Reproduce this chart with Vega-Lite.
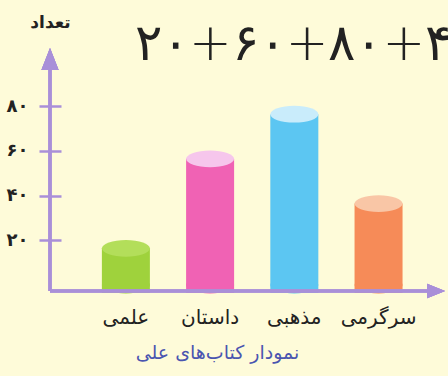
{
  "$schema": "https://vega.github.io/schema/vega-lite/v6.json",
  "width": 395,
  "height": 237,
  "autosize": {"type": "none"},
  "padding": {"left": 50, "top": 48, "right": 3, "bottom": 91},
  "background": "#fefbd9",
  "config": {"view": {"stroke": null}, "font": "DejaVu Sans"},
  "title": {
    "text": "۲۰+۶۰+۸۰+۴",
    "anchor": "start",
    "frame": "group",
    "fontSize": 51,
    "fontWeight": 200,
    "color": "#222222",
    "dx": 85,
    "offset": -58
  },
  "data": {
    "values": [
      {"category": "علمی", "count": 20},
      {"category": "داستان", "count": 60},
      {"category": "مذهبی", "count": 80},
      {"category": "سرگرمی", "count": 40}
    ]
  },
  "resolve": {"scale": {"x": "independent"}},
  "layer": [
    {
      "layer": [
        {
          "mark": {
            "type": "point",
            "shape": "M -1 0 A 1 0.35 0 1 0 1 0 A 1 0.35 0 1 0 -1 0 Z",
            "size": 2304,
            "filled": true,
            "opacity": 1
          },
          "encoding": {
            "x": {"field": "category", "type": "nominal", "sort": null},
            "y": {"datum": 0, "type": "quantitative"},
            "color": {"field": "category", "type": "nominal", "sort": null, "legend": null}
          }
        },
        {
          "mark": {"type": "bar", "yOffset": 8, "y2Offset": 0},
          "encoding": {
            "x": {
              "field": "category",
              "type": "nominal",
              "sort": null,
              "scale": {"paddingInner": 0.43, "paddingOuter": 0.56, "align": 0.55},
              "axis": {
                "domain": false,
                "ticks": false,
                "labelAngle": 0,
                "labelAlign": "center",
                "labelFontSize": 20,
                "labelPadding": 32,
                "labelColor": "#222222",
                "labelBaseline": "middle",
                "title": "نمودار کتاب‌های علی",
                "titleFontSize": 19,
                "titleFontWeight": "normal",
                "titleColor": "#4a55b0",
                "titleX": 167,
                "titleY": 67,
                "titleAlign": "center",
                "titleBaseline": "middle"
              }
            },
            "y": {
              "field": "count",
              "type": "quantitative",
              "scale": {"domain": [0, 106], "nice": false},
              "axis": {
                "values": [20, 40, 60, 80],
                "grid": false,
                "domain": false,
                "offset": -11,
                "tickSize": 22,
                "tickWidth": 2.5,
                "tickColor": "#a98fd8",
                "labelPadding": 11,
                "labelFontSize": 18,
                "labelFontWeight": "bold",
                "labelColor": "#222222",
                "labelExpr": "datum.value == 20 ? '۲۰' : datum.value == 40 ? '۴۰' : datum.value == 60 ? '۶۰' : '۸۰'",
                "title": "تعداد",
                "titleAngle": 0,
                "titleFontSize": 17,
                "titleFontWeight": "bold",
                "titleColor": "#222222",
                "titleX": -11,
                "titleY": -26,
                "titleAlign": "center",
                "titleBaseline": "middle"
              }
            },
            "color": {
              "field": "category",
              "type": "nominal",
              "sort": null,
              "scale": {"range": ["#9fd23c", "#f062b4", "#5cc6f2", "#f68b58"]},
              "legend": null
            }
          }
        },
        {
          "mark": {
            "type": "point",
            "shape": "M -1 0 A 1 0.35 0 1 0 1 0 A 1 0.35 0 1 0 -1 0 Z",
            "size": 2304,
            "filled": true,
            "opacity": 1,
            "yOffset": 8
          },
          "encoding": {
            "x": {"field": "category", "type": "nominal", "sort": null},
            "y": {"field": "count", "type": "quantitative"},
            "fill": {
              "field": "category",
              "type": "nominal",
              "sort": null,
              "scale": {"range": ["#b3de5a", "#f6c6ec", "#c9ecfb", "#f9c6a6"]},
              "legend": null
            }
          }
        }
      ]
    },
    {
      "layer": [
        {
          "mark": {"type": "rule", "color": "#a98fd8", "strokeWidth": 3, "yOffset": 6},
          "encoding": {
            "x": {"datum": 0, "type": "quantitative", "scale": {"domain": [0, 1]}, "axis": null},
            "y": {"datum": 0, "type": "quantitative"},
            "y2": {"datum": 100}
          }
        },
        {
          "mark": {"type": "rule", "color": "#a98fd8", "strokeWidth": 3, "yOffset": 6},
          "encoding": {
            "x": {"datum": 0, "type": "quantitative", "axis": null},
            "x2": {"datum": 0.97},
            "y": {"datum": 0, "type": "quantitative"}
          }
        },
        {
          "mark": {
            "type": "point",
            "shape": "M 0 -1 L 0.78 1 L -0.78 1 Z",
            "size": 484,
            "filled": true,
            "opacity": 1,
            "color": "#a98fd8",
            "yOffset": 11
          },
          "encoding": {
            "x": {"datum": 0, "type": "quantitative", "axis": null},
            "y": {"datum": 106, "type": "quantitative"}
          }
        },
        {
          "mark": {
            "type": "point",
            "shape": "M 1 0 L -1 0.8 L -1 -0.8 Z",
            "size": 324,
            "filled": true,
            "opacity": 1,
            "color": "#a98fd8",
            "xOffset": -9,
            "yOffset": 6
          },
          "encoding": {
            "x": {"datum": 1, "type": "quantitative", "axis": null},
            "y": {"datum": 0, "type": "quantitative"}
          }
        }
      ]
    }
  ]
}
